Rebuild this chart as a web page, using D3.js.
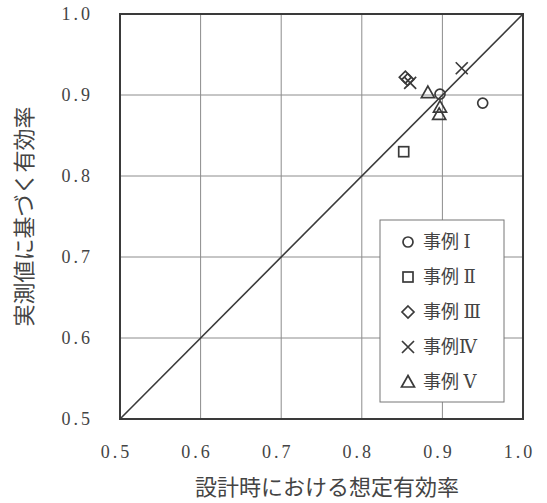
<!DOCTYPE html>
<html>
<head>
<meta charset="utf-8">
<script src="https://cdn.jsdelivr.net/npm/d3@7"></script>
<style>
  html, body { margin: 0; padding: 0; background: #fff; }
  svg { display: block; }
  text { font-family: "Liberation Serif", "DejaVu Serif", "Noto Sans CJK JP", serif; fill: #444; }
</style>
</head>
<body>
<svg id="chart" width="547" height="503"></svg>
<script>
// Axis ticks
const ticks = [0.5, 0.6, 0.7, 0.8, 0.9, 1.0];

// Series: design-assumed efficiency (x) vs. measured efficiency (y)
const caseNames = ["事例 Ⅰ", "事例 Ⅱ", "事例 Ⅲ", "事例Ⅳ", "事例 Ⅴ"];
const caseShapes = ["circle", "square", "diamond", "cross", "triangle"];
const case1 = [[0.950, 0.890], [0.897, 0.901]];
const case2 = [[0.852, 0.830]];
const case3 = [[0.854, 0.922], [0.857, 0.919]];
const case4 = [[0.860, 0.915], [0.924, 0.933]];
const case5 = [[0.882, 0.903], [0.897, 0.885], [0.896, 0.876]];
const seriesData = [case1, case2, case3, case4, case5];

const svg = d3.select("#chart");
const L = 120, R = 523, T = 14, B = 419;
const x = d3.scaleLinear().domain([0.5, 1.0]).range([L, R]);
const y = d3.scaleLinear().domain([0.5, 1.0]).range([B, T]);

const ink = "#3a3a3a";
const grid = "#8c8c8c";

// grid lines
svg.append("g").selectAll("line").data(ticks.slice(1, -1)).join("line")
  .attr("x1", d => x(d)).attr("x2", d => x(d)).attr("y1", T).attr("y2", B)
  .attr("stroke", grid).attr("stroke-width", 1);
svg.append("g").selectAll("line").data(ticks.slice(1, -1)).join("line")
  .attr("x1", L).attr("x2", R).attr("y1", d => y(d)).attr("y2", d => y(d))
  .attr("stroke", grid).attr("stroke-width", 1);

// 1:1 reference line
svg.append("line")
  .attr("x1", x(0.5)).attr("y1", y(0.5)).attr("x2", x(1.0)).attr("y2", y(1.0))
  .attr("stroke", ink).attr("stroke-width", 1.6);

// axes (labels only; frame drawn separately)
const fmt = d => d.toFixed(1);
const xAxis = svg.append("g").attr("transform", `translate(0,${B})`)
  .call(d3.axisBottom(x).tickValues(ticks).tickFormat(fmt).tickSize(0).tickPadding(26));
const yAxis = svg.append("g").attr("transform", `translate(${L},0)`)
  .call(d3.axisLeft(y).tickValues(ticks).tickFormat(fmt).tickSize(0).tickPadding(27));
[xAxis, yAxis].forEach(a => {
  a.select(".domain").remove();
  a.selectAll("text")
    .style("font-family", '"Liberation Serif", "DejaVu Serif", serif')
    .style("font-size", "18px")
    .style("letter-spacing", "3px")
    .attr("fill", "#444");
});
xAxis.selectAll("text").attr("dx", -4);

// frame
svg.append("rect")
  .attr("x", L).attr("y", T).attr("width", R - L).attr("height", B - T)
  .attr("fill", "none").attr("stroke", ink).attr("stroke-width", 2);

// marker drawing
function marker(g, shape, cx, cy) {
  const s = { fill: "none", stroke: ink, "stroke-width": 1.7 };
  let el;
  if (shape === "circle") {
    el = g.append("circle").attr("cx", cx).attr("cy", cy).attr("r", 5);
  } else if (shape === "square") {
    el = g.append("rect").attr("x", cx - 5).attr("y", cy - 5).attr("width", 10).attr("height", 10);
  } else if (shape === "diamond") {
    el = g.append("path").attr("d", `M${cx},${cy - 6}L${cx + 6},${cy}L${cx},${cy + 6}L${cx - 6},${cy}Z`);
  } else if (shape === "cross") {
    el = g.append("path").attr("d", `M${cx - 6},${cy - 6}L${cx + 6},${cy + 6}M${cx + 6},${cy - 6}L${cx - 6},${cy + 6}`);
  } else {
    el = g.append("path").attr("d", `M${cx},${cy - 6.5}L${cx + 6.5},${cy + 5}L${cx - 6.5},${cy + 5}Z`);
  }
  Object.entries(s).forEach(([k, v]) => el.attr(k, v));
}

// data points
const pts = svg.append("g");
seriesData.forEach((arr, i) => {
  arr.forEach(d => marker(pts, caseShapes[i], x(d[0]), y(d[1])));
});

// legend
const lg = svg.append("g");
lg.append("rect")
  .attr("x", 380).attr("y", 220).attr("width", 124).attr("height", 182)
  .attr("fill", "#fff").attr("stroke", "#777").attr("stroke-width", 1);
caseNames.forEach((name, i) => {
  const cy = 242 + i * 35;
  marker(lg, caseShapes[i], 408, cy);
  lg.append("text").attr("x", 423).attr("y", cy + 6)
    .style("font-size", "18px").text(name);
});

// axis titles
svg.append("text")
  .attr("x", 327).attr("y", 495).attr("text-anchor", "middle")
  .style("font-size", "22px").text("設計時における想定有効率");
svg.append("text")
  .attr("transform", `translate(32,${(T + B) / 2}) rotate(-90)`)
  .attr("text-anchor", "middle")
  .style("font-size", "22px").text("実測値に基づく有効率");
</script>
</body>
</html>
